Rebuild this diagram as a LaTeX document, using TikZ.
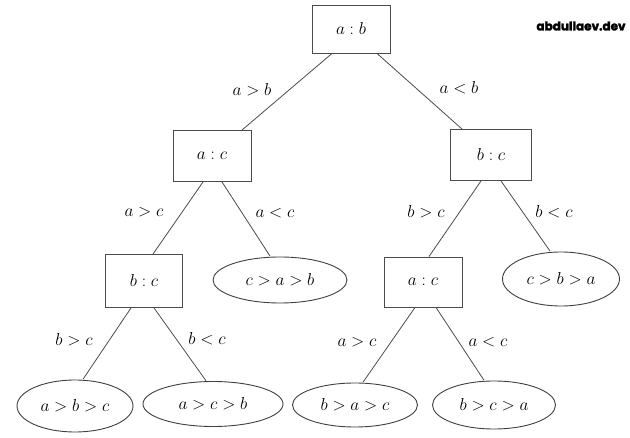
\documentclass[tikz,border=0pt]{standalone}
\usepackage{fontspec}
\newfontfamily\wmfont{Poppins}[UprightFont=* Bold, FakeBold=2.2]
\usetikzlibrary{shapes.geometric}
\begin{document}
\begin{tikzpicture}[x=1pt,y=-1pt,
  every node/.style={font=\fontsize{17.5}{21}\selectfont, inner sep=0pt},
  cmpbox/.style={draw=black!70, line width=0.9pt, rectangle, fill=white},
  leaf/.style={draw=black!75, line width=0.9pt, ellipse, fill=white},
  edge/.style={draw=black!70, line width=0.8pt},
  lbl/.style={}]
\useasboundingbox (0,0) rectangle (630,438);
\fill[white] (0,0) rectangle (630,438);
% comparison boxes
\node[cmpbox, minimum width=78pt, minimum height=48pt] (ab) at (351,29) {$a:b$};
\node[cmpbox, minimum width=78pt, minimum height=51pt] (ac1) at (212,156) {$a:c$};
\node[cmpbox, minimum width=81pt, minimum height=51pt] (bc1) at (491,155) {$b:c$};
\node[cmpbox, minimum width=77pt, minimum height=53pt] (bc2) at (144,281) {$b:c$};
\node[cmpbox, minimum width=78pt, minimum height=50pt] (ac2) at (423,282) {$a:c$};
% leaves
\node[leaf, minimum width=134pt, minimum height=46pt] (cab) at (280,280) {$c>a>b$};
\node[leaf, minimum width=117pt, minimum height=54pt] (cba) at (561,279) {$c>b>a$};
\node[leaf, minimum width=116pt, minimum height=52pt] (abc) at (75,406) {$a>b>c$};
\node[leaf, minimum width=140pt, minimum height=45pt] (acb) at (213,404) {$a>c>b$};
\node[leaf, minimum width=125pt, minimum height=44pt] (bac) at (355,405) {$b>a>c$};
\node[leaf, minimum width=123pt, minimum height=48pt] (bca) at (494,405) {$b>c>a$};
% connectors
\draw[edge] ([xshift=-19pt]ab.south) -- ([xshift=30pt]ac1.north);
\draw[edge] ([xshift=26pt]ab.south) -- ([xshift=-29pt]bc1.north);
\draw[edge] ([xshift=-9pt]ac1.south) -- ([xshift=9pt]bc2.north);
\draw[edge] ([xshift=10pt]ac1.south) -- ([xshift=-10pt,yshift=0.5pt]cab.north);
\draw[edge] ([xshift=-13pt]bc2.south) -- ([xshift=8pt,yshift=0.3pt]abc.north);
\draw[edge] ([xshift=10pt]bc2.south) -- ([xshift=-7pt,yshift=0.3pt]acb.north);
\draw[edge] ([xshift=-10pt]bc1.south) -- ([xshift=6pt]ac2.north);
\draw[edge] ([xshift=10pt]bc1.south) -- ([xshift=-11pt,yshift=0.5pt]cba.north);
\draw[edge] ([xshift=-8pt]ac2.south) -- ([xshift=8pt,yshift=0.3pt]bac.north);
\draw[edge] ([xshift=13pt]ac2.south) -- ([xshift=-10pt,yshift=0.3pt]bca.north);
% edge labels
\node[lbl] (l1) at (252,90) {$a>b$};
\node[lbl] (l2) at (459,88) {$a<b$};
\node[lbl] (l3) at (144,212) {$a>c$};
\node[lbl] (l4) at (275,213) {$a<c$};
\node[lbl] (l5) at (426,212) {$b>c$};
\node[lbl] (l6) at (554,212) {$b<c$};
\node[lbl] (l7) at (74,340) {$b>c$};
\node[lbl] (l8) at (207,339) {$b<c$};
\node[lbl] (l9) at (357,342) {$a>c$};
\node[lbl] (l10) at (488,342) {$a<c$};
% watermark
\node[font=\wmfont\fontsize{12}{14}\selectfont] (wm) at (581,26) {abdullaev.dev};
\end{tikzpicture}
\end{document}
